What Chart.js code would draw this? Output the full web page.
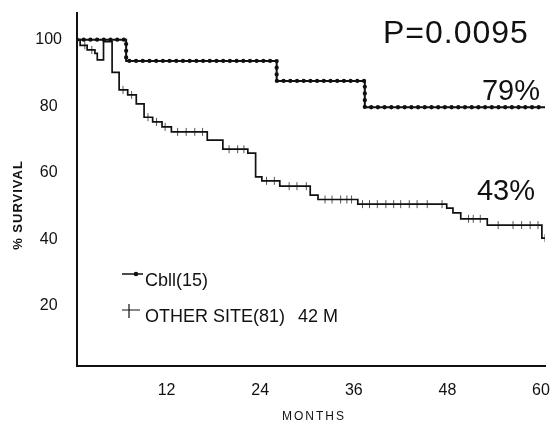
<!DOCTYPE html>
<html>
<head>
<meta charset="utf-8">
<title>Survival: Cbll vs other site</title>
<script src="https://cdn.jsdelivr.net/npm/chart.js@4.4.1/dist/chart.umd.min.js"></script>
<style>
  html, body { margin: 0; padding: 0; background: #fff; }
  #wrap { width: 558px; height: 424px; }
</style>
</head>
<body>
<div id="wrap"><canvas id="km" width="558" height="424"></canvas></div>
<script>
// ── data ──
const xTicks = [12, 24, 36, 48, 60];
const yTicks = [20, 40, 60, 80, 100];

// Cbll(15): step times (months) and survival (%)
const cbllTimes = [0, 6.3, 25.6, 36.9, 60];
const cbllSurv  = [100, 93.6, 87.6, 79.7, 79.7];

// other site(81)
const otherTimes = [0, 0.4, 1.3, 2.3, 2.6, 3.4, 4.5, 5.4, 6.5, 7.6, 8.6, 9.7, 10.9, 12.1,
  16.7, 18.7, 21.9, 22.9, 23.7, 26.0, 29.9, 30.9, 36.0, 47.4, 48.2, 49.2, 52.6, 59.6, 60];
const otherSurv  = [100, 98.3, 96.9, 95.9, 93.9, 99.4, 90.2, 84.9, 83.4, 80.7, 76.7, 75.3, 73.8, 72.3,
  69.8, 67.1, 65.9, 58.8, 57.6, 56.0, 53.3, 52.0, 50.6, 49.4, 48.0, 46.2, 44.3, 40.4, 40.4];

// censored observations (other site)
const censorTimes = [1.0, 1.9, 5.9, 7.0, 9.1, 10.2, 11.3, 12.9, 14.0, 15.1, 16.1, 19.5, 20.6, 21.4,
  24.3, 25.3, 27.2, 28.2, 29.4, 31.8, 32.7, 33.8, 34.6, 35.2, 36.6, 37.5, 38.5, 39.6, 40.6,
  41.5, 42.6, 43.6, 44.9, 46.8, 50.2, 50.8, 51.7, 54.0, 55.9, 57.0, 58.1, 59.1, 60];
const censorSurv  = [98.3, 96.9, 84.9, 83.4, 76.7, 75.3, 73.8, 72.3, 72.3, 72.3, 72.3, 67.1, 67.1, 67.1,
  57.6, 57.6, 56.0, 56.0, 56.0, 52.0, 52.0, 52.0, 52.0, 52.0, 50.6, 50.6, 50.6, 50.6, 50.6,
  50.6, 50.6, 50.6, 50.6, 50.6, 46.2, 46.2, 46.2, 44.3, 44.3, 44.3, 44.3, 44.3, 40.4];

const toXY = (xs, ys) => xs.map((x, i) => ({ x, y: ys[i] }));

const FONT = "'Liberation Sans', Arial, Helvetica, sans-serif";
const INK = '#111';

// texts that sit on the plot: p value, end percentages, legend, axis titles
const annot = {
  id: 'annot',
  afterDraw(chart) {
    const { ctx } = chart;
    const xs = chart.scales.x;
    ctx.save();
    ctx.fillStyle = INK;
    ctx.strokeStyle = INK;

    ctx.font = `32px ${FONT}`;
    ctx.textAlign = 'left';
    ctx.textBaseline = 'alphabetic';
    ctx.letterSpacing = '1px';
    ctx.fillText('P=0.0095', 383, 43);

    ctx.font = `29px ${FONT}`;
    ctx.textAlign = 'right';
    ctx.letterSpacing = '0px';
    ctx.fillText('79%', xs.getPixelForValue(60) - 5, 100);
    ctx.fillText('43%', xs.getPixelForValue(60) - 10, 200);

    // legend
    ctx.lineWidth = 1.5;
    ctx.beginPath(); ctx.moveTo(122, 274); ctx.lineTo(143, 274); ctx.stroke();
    ctx.beginPath(); ctx.arc(136, 274, 2.3, 0, Math.PI * 2); ctx.fill();
    ctx.lineWidth = 1.2;
    ctx.beginPath(); ctx.moveTo(122, 310); ctx.lineTo(140, 310);
    ctx.moveTo(129, 304); ctx.lineTo(129, 318); ctx.stroke();

    ctx.font = `18px ${FONT}`;
    ctx.textAlign = 'left';
    ctx.textBaseline = 'middle';
    ctx.fillText('Cbll(15)', 145, 281);
    ctx.fillText('OTHER SITE(81)', 145, 317);
    ctx.fillText('42 M', 298, 317);

    // axis titles
    ctx.font = `12px ${FONT}`;
    ctx.textAlign = 'center';
    ctx.letterSpacing = '2px';
    ctx.fillText('MONTHS', 314, 417);

    ctx.translate(18, 205);
    ctx.rotate(-Math.PI / 2);
    ctx.font = `bold 13px ${FONT}`;
    ctx.letterSpacing = '1px';
    ctx.fillText('% SURVIVAL', 0, 0);
    ctx.restore();
  }
};

new Chart(document.getElementById('km'), {
  type: 'line',
  data: {
    datasets: [
      {
        label: 'Cbll(15)',
        data: toXY(cbllTimes, cbllSurv),
        stepped: 'before',
        borderColor: INK,
        borderWidth: 2,
        pointRadius: 0,
      },
      {
        label: 'Cbll dots',
        data: toXY(cbllTimes, cbllSurv),
        stepped: 'before',
        borderColor: INK,
        borderWidth: 4.3,
        borderDash: [0, 6.7],
        borderCapStyle: 'round',
        pointRadius: 0,
      },
      {
        label: 'OTHER SITE(81)',
        data: toXY(otherTimes, otherSurv),
        stepped: 'before',
        borderColor: INK,
        borderWidth: 1.7,
        pointRadius: 0,
      },
      {
        label: 'censored',
        type: 'scatter',
        data: toXY(censorTimes, censorSurv),
        showLine: false,
        pointStyle: 'line',
        rotation: 90,
        pointRadius: 4,
        borderColor: '#555',
        borderWidth: 1,
        backgroundColor: '#555',
      },
    ],
  },
  options: {
    responsive: false,
    animation: false,
    devicePixelRatio: 1,
    layout: { padding: { top: 13, right: 13, left: 0, bottom: 0 } },
    plugins: { legend: { display: false }, tooltip: { enabled: false } },
    scales: {
      x: {
        type: 'linear',
        min: 0,
        max: 60,
        afterFit: s => { s.height = 58; s.paddingLeft = 0; s.paddingRight = 0; },
        afterBuildTicks: s => { s.ticks = xTicks.map(v => ({ value: v })); },
        grid: { display: false, drawTicks: false },
        border: { display: true, color: INK, width: 2 },
        ticks: { font: { family: FONT, size: 16 }, color: INK, padding: 15, labelOffset: -4, maxRotation: 0 },
      },
      y: {
        min: 2,
        max: 108,
        afterFit: s => { s.width = 77; s.paddingTop = 0; s.paddingBottom = 0; },
        afterBuildTicks: s => { s.ticks = yTicks.map(v => ({ value: v })); },
        grid: { display: false, drawTicks: false },
        border: { display: true, color: INK, width: 2 },
        ticks: { font: { family: FONT, size: 16 }, color: INK, padding: 15, crossAlign: 'center' },
      },
    },
  },
  plugins: [annot],
});
</script>
</body>
</html>
